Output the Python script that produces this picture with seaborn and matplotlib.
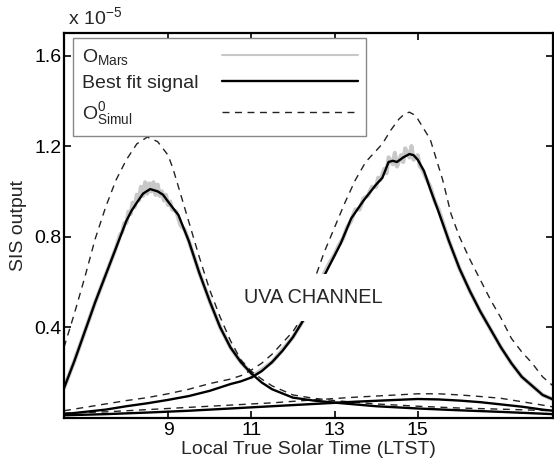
import numpy as np
import matplotlib
matplotlib.use("Agg")
import matplotlib.pyplot as plt
from matplotlib.lines import Line2D
import seaborn as sns

# values in units of 1e-5
# morning signal
ltst_am = [6.5, 6.75, 7.0, 7.25, 7.5, 7.75, 8.0, 8.125, 8.25, 8.4, 8.57, 8.75, 8.88, 9.0, 9.25,
           9.5, 9.75, 10.0, 10.25, 10.5, 10.75, 11.0, 11.25, 11.5, 12.0, 12.5, 13.0, 14.0, 15.0,
           16.0, 17.0, 18.25]
fit_am = [0.13, 0.25, 0.38, 0.51, 0.63, 0.75, 0.87, 0.915, 0.95, 0.99, 1.01, 1.0, 0.985, 0.955, 0.895,
          0.78, 0.64, 0.515, 0.40, 0.31, 0.245, 0.195, 0.155, 0.125, 0.088, 0.075, 0.066, 0.05, 0.04,
          0.032, 0.025, 0.015]

ltst_am_sim = [6.5, 6.75, 7.0, 7.25, 7.5, 7.75, 8.0, 8.25, 8.5, 8.75, 9.0, 9.12, 9.25, 9.5, 9.75,
               10.0, 10.25, 10.5, 10.75, 11.0, 11.25, 11.5, 12.0, 12.5, 13.0, 14.0, 15.0, 16.0,
               17.0, 18.25]
simul_am = [0.31, 0.46, 0.62, 0.79, 0.93, 1.05, 1.14, 1.21, 1.24, 1.22, 1.16, 1.10, 1.02, 0.865, 0.71,
            0.565, 0.445, 0.34, 0.255, 0.205, 0.17, 0.14, 0.10, 0.085, 0.075, 0.06, 0.05, 0.042,
            0.037, 0.03]

mars_am_x = [6.5, 6.75, 7.0, 7.25, 7.5, 7.75, 7.85, 7.9, 7.95, 8.0, 8.05, 8.1, 8.15, 8.2, 8.25,
             8.3, 8.35, 8.4, 8.45, 8.5, 8.55, 8.6, 8.65, 8.7, 8.75, 8.8, 8.85, 8.9, 8.95, 9.0,
             9.05, 9.1, 9.2, 9.3, 9.4, 9.5, 9.75, 10.0, 10.25, 10.5, 10.75, 11.0]
mars_am = [0.13, 0.25, 0.38, 0.51, 0.63, 0.75, 0.81, 0.82, 0.86, 0.86, 0.91, 0.90, 0.95, 0.93, 0.985,
           0.96, 1.02, 0.98, 1.04, 0.99, 1.035, 1.0, 1.04, 0.985, 1.03, 0.98, 1.0, 0.96, 0.985, 0.94,
           0.955, 0.92, 0.91, 0.85, 0.83, 0.78, 0.64, 0.515, 0.40, 0.31, 0.245, 0.195]

# afternoon signal
ltst_pm = [6.5, 7.0, 7.5, 8.0, 8.5, 9.0, 9.5, 10.0, 10.5, 10.75, 11.0, 11.25, 11.5, 11.75, 12.0,
           12.25, 12.5, 12.65, 12.9, 13.15, 13.4, 13.7, 14.0, 14.15, 14.3, 14.4, 14.5, 14.65, 14.8,
           14.9, 15.0, 15.15, 15.3, 15.5, 15.75, 16.0, 16.25, 16.5, 16.75, 17.0, 17.25, 17.5, 17.75,
           18.0, 18.25]
fit_pm = [0.015, 0.025, 0.035, 0.05, 0.063, 0.078, 0.095, 0.118, 0.148, 0.16, 0.177, 0.205, 0.245, 0.295,
          0.355, 0.43, 0.52, 0.59, 0.68, 0.77, 0.88, 0.96, 1.03, 1.06, 1.13, 1.135, 1.13, 1.15, 1.165,
          1.16, 1.14, 1.09, 1.01, 0.91, 0.78, 0.66, 0.56, 0.47, 0.39, 0.31, 0.24, 0.18, 0.14, 0.10, 0.08]

ltst_pm_sim = [6.5, 7.0, 7.5, 8.0, 8.5, 9.0, 9.5, 10.0, 10.5, 10.75, 11.0, 11.25, 11.5, 11.75, 12.0,
               12.25, 12.5, 12.75, 13.0, 13.25, 13.5, 13.75, 14.0, 14.15, 14.35, 14.55, 14.7, 14.8,
               14.9, 15.0, 15.3, 15.6, 15.8, 16.0, 16.25, 16.5, 16.75, 17.0, 17.25, 17.5, 17.75,
               18.0, 18.25]
simul_pm = [0.03, 0.045, 0.06, 0.075, 0.088, 0.105, 0.125, 0.15, 0.17, 0.185, 0.21, 0.24, 0.28, 0.33,
            0.38, 0.45, 0.60, 0.73, 0.84, 0.95, 1.05, 1.13, 1.18, 1.21, 1.27, 1.32, 1.345, 1.35,
            1.34, 1.32, 1.23, 1.05, 0.90, 0.80, 0.70, 0.61, 0.52, 0.44, 0.35, 0.29, 0.24, 0.18, 0.14]

mars_pm_x = [11.0, 11.5, 12.0, 12.25, 12.5, 12.7, 12.9, 13.0, 13.1, 13.2, 13.3, 13.4, 13.5, 13.6,
             13.7, 13.8, 13.9, 14.0, 14.05, 14.1, 14.2, 14.25, 14.3, 14.4, 14.45, 14.5, 14.6,
             14.65, 14.7, 14.8, 14.85, 14.9, 15.0, 15.05, 15.1, 15.2, 15.3, 15.4, 15.5, 15.75,
             16.0, 16.25, 16.5, 16.75, 17.0, 17.25, 17.5, 17.75, 18.0, 18.25]
mars_pm = [0.177, 0.245, 0.355, 0.43, 0.52, 0.62, 0.69, 0.72, 0.76, 0.79, 0.84, 0.87, 0.92, 0.92,
           0.97, 0.98, 1.02, 1.02, 1.06, 1.05, 1.10, 1.08, 1.15, 1.12, 1.17, 1.11, 1.16, 1.13,
           1.19, 1.15, 1.2, 1.14, 1.16, 1.11, 1.10, 1.06, 1.02, 0.96, 0.92, 0.78, 0.66, 0.56, 0.47,
           0.39, 0.31, 0.24, 0.18, 0.14, 0.10, 0.08]

# small signal
ltst_low = [6.5, 7.5, 8.5, 9.5, 10.5, 11.5, 12.5, 13.5, 14.5, 15.0, 15.5, 16.0, 16.5, 17.0, 17.5, 18.0, 18.25]
fit_low = [0.01, 0.015, 0.022, 0.03, 0.04, 0.05, 0.06, 0.07, 0.078, 0.082, 0.08, 0.075, 0.068, 0.058, 0.048, 0.035, 0.03]
simul_low = [0.02, 0.025, 0.035, 0.045, 0.055, 0.065, 0.078, 0.09, 0.10, 0.105, 0.105, 0.10, 0.093, 0.085, 0.07, 0.055, 0.047]

xticks = [9, 11, 13, 15]
yticks = [0.4, 0.8, 1.2, 1.6]

sns.set_style("ticks")
plt.rcParams['font.family'] = ['Liberation Sans', 'DejaVu Sans']
plt.rcParams['mathtext.fontset'] = 'custom'
plt.rcParams['mathtext.rm'] = 'Liberation Sans'
plt.rcParams['mathtext.it'] = 'Liberation Sans'
plt.rcParams['mathtext.default'] = 'regular'

fig = plt.figure(figsize=(5.54, 4.66), dpi=100)
ax = fig.add_axes([0.1155, 0.104, 0.8827, 0.8251])

gray = '#c8c8c8'
dash = (0, (5, 4))
# observed (gray, noisy)
sns.lineplot(x=mars_am_x, y=mars_am, ax=ax, color=gray, lw=3.0, sort=False)
sns.lineplot(x=mars_pm_x, y=mars_pm, ax=ax, color=gray, lw=3.0, sort=False)
# simulated (dashed)
for xs, ys in [(ltst_am_sim, simul_am), (ltst_pm_sim, simul_pm), (ltst_low, simul_low)]:
    sns.lineplot(x=xs, y=ys, ax=ax, color='#222222', lw=1.0, linestyle=dash, sort=False)
# best fit (black)
for xs, ys in [(ltst_am, fit_am), (ltst_pm, fit_pm), (ltst_low, fit_low)]:
    sns.lineplot(x=xs, y=ys, ax=ax, color='black', lw=1.7, sort=False)

ax.text(12.5, 0.53, 'UVA CHANNEL', fontsize=14.3, ha='center', va='center', zorder=5,
        bbox=dict(boxstyle='square,pad=0.7', fc='white', ec='none'))

ax.set_xlim(6.5, 18.25)
ax.set_ylim(0, 1.70)
ax.set_xticks(xticks)
ax.set_xticklabels([str(t) for t in xticks])
ax.set_yticks(yticks)
ax.set_yticklabels([f'{t:.1f}' for t in yticks])
ax.tick_params(direction='in', top=True, right=True, length=5, width=1.2,
               labelsize=14, pad=3, colors='black')
ax.tick_params(axis='y', pad=2)
for s in ax.spines.values():
    s.set_linewidth(1.6)
    s.set_color('black')

ax.set_xlabel('Local True Solar Time (LTST)', fontsize=14, labelpad=2)
ax.set_ylabel('SIS output', fontsize=14, labelpad=5)
ax.text(0.008, 1.012, r'x 10$^{-5}$', transform=ax.transAxes, fontsize=14,
        ha='left', va='bottom')

handles = [Line2D([], [], color=gray, lw=1.5),
           Line2D([], [], color='black', lw=1.7),
           Line2D([], [], color='#222222', lw=1.0, linestyle=dash)]
labels = [r'O$_{Mars}$', 'Best fit signal', r'O$^{0}_{Simul}$']
leg = ax.legend(handles, labels, loc='upper left', bbox_to_anchor=(0.0184, 0.987),
                borderaxespad=0, markerfirst=False, handlelength=7.0, handletextpad=1.2,
                labelspacing=0.4, borderpad=0.45, fontsize=14, fancybox=False,
                framealpha=1, edgecolor='#888888')
leg.get_frame().set_linewidth(1.0)

# left-align the labels, keep the line samples in one column on the right
renderer = fig.canvas.get_renderer()
px_per_pt = fig.dpi / 72.0
for col in leg._legend_handle_box.get_children():
    col.align = 'left'
    rows = col.get_children()
    widths = [r.get_children()[0].get_bbox(renderer).width for r in rows]
    for r, w in zip(rows, widths):
        r.sep = r.sep + (max(widths) - w) / px_per_pt

fig.savefig('out.png', dpi=100)
